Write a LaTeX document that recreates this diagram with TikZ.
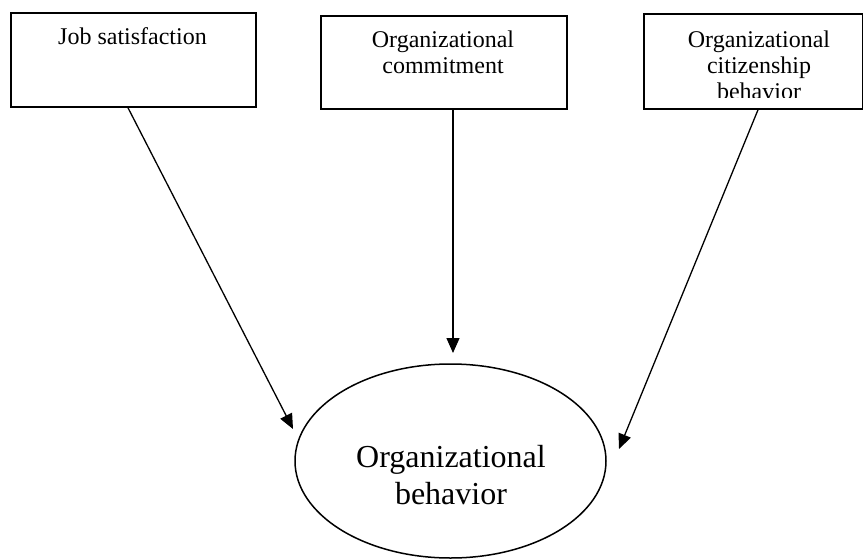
\documentclass[tikz,border=0pt]{standalone}
\usepackage{fontspec}
\setmainfont{Liberation Serif}
\usetikzlibrary{arrows.meta,shapes.geometric}

\begin{document}
\begin{tikzpicture}[x=1pt,y=-1pt,
	box/.style={draw,line width=1.8pt,anchor=north west,inner sep=0pt},
	lbl/.style={anchor=north,align=center,inner sep=0pt,font=\fontsize{24}{26}\selectfont},
	arr/.style={line width=1.3pt,-{Triangle[length=15pt,width=13pt]}}]
	\useasboundingbox (0,0) rectangle (863,560);
	
	\node[box,minimum width=245pt,minimum height=94pt](js)at(10,12) {};
	\node[lbl](jst)at(132.5,27.6) {Job satisfaction};
	\node[box,minimum width=246pt,minimum height=93pt](oc)at(320,15) {};
	\node[lbl](oct)at(443,30.6) {Organizational\\commitment};
	\node[box,minimum width=219pt,minimum height=95pt](ocb)at(643,13) {};
	\begin{scope}
		\clip (643,13) rectangle (862,97);
		\node[lbl](ocbt)at(759,30.6) {Organizational\\citizenship\\behavior};
	\end{scope}
	\node[draw,ellipse,line width=1.5pt,minimum width=311pt,minimum height=194pt](ob)at(450.5,461) {};
	\node[align=center,anchor=north,inner sep=0pt,font=\fontsize{32}{37}\selectfont](obt)at(451,445) {Organizational\\behavior};
	
	\coordinate (t1) at (293,429);
	\coordinate (t2) at (453,353);
	\coordinate (t3) at (619,449);
	\draw[arr](js.south west) ++(118,0) -- (t1);
	\draw[arr](oc.south west) ++(133,0) -- (t2);
	\draw[arr](ocb.south west) ++(115,0) -- (t3);
\end{tikzpicture}
\end{document}
